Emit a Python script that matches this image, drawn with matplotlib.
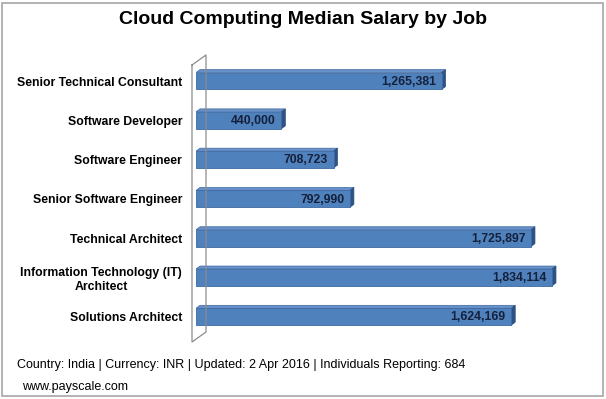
import numpy as np
import matplotlib
matplotlib.use("Agg")
import matplotlib.pyplot as plt
from matplotlib.patches import Polygon, Rectangle
from matplotlib.lines import Line2D
from matplotlib.transforms import IdentityTransform

plt.rcParams['font.family'] = ['Liberation Sans', 'DejaVu Sans']

jobs = ['Senior Technical Consultant', 'Software Developer', 'Software Engineer',
        'Senior Software Engineer', 'Technical Architect',
        'Information Technology (IT)\nArchitect', 'Solutions Architect']
salary = [1265381, 440000, 708723, 792990, 1725897, 1834114, 1624169]

W, H = 606, 399
fig = plt.figure(figsize=(W / 100, H / 100), dpi=100)
ax = fig.add_axes([196 / W, 62.6 / H, 394 / W, 275 / H])

ypos = np.arange(len(jobs))
bh = 0.43
front = '#4f81bd'
top_c = '#6790c8'
side_c = '#2e5283'

ax.barh(ypos, salary, height=bh, color=front, edgecolor='#3d6aa3', linewidth=0.6, zorder=3)
ax.set_xlim(0, 2.03e6)
ax.set_ylim(6.5, -0.5)

for s in ax.spines.values():
    s.set_visible(False)
ax.set_xticks([])
ax.set_yticks(ypos)
ax.set_yticklabels(jobs, fontsize=8.8, fontweight='bold', multialignment='center')
ax.tick_params(axis='y', length=0, pad=10)

# 3d faces of each bar, depth in pixels
d = (4, 3)
ident = IdentityTransform()
for y, v in zip(ypos, salary):
    p0 = ax.transData.transform((0, y - bh / 2))
    p1 = ax.transData.transform((v, y - bh / 2))
    p2 = ax.transData.transform((v, y + bh / 2))
    off = np.array(d)
    ax.add_patch(Polygon([p0, p1, p1 + off, p0 + off], closed=True, transform=ident,
                         facecolor=top_c, edgecolor='#3d6aa3', linewidth=0.5, zorder=2))
    ax.add_patch(Polygon([p1, p2, p2 + off, p1 + off], closed=True, transform=ident,
                         facecolor=side_c, edgecolor=side_c, linewidth=0.5, zorder=2))
    ax.annotate(f'{v:,}', (v, y), xytext=(-4, -0.5), textcoords='offset points',
                ha='right', va='center', fontsize=8.8, fontweight='bold',
                color='#15203a', zorder=4)

# side wall
wall = dict(color='#8c8c8c', linewidth=0.9, transform=ident)
fx = [192, 192, 206, 206, 192]
fy = [H - 65, H - 342, H - 332, H - 55, H - 65]
fig.add_artist(Line2D(fx, fy, **wall))

fig.text(0.5, 1 - 20 / H, 'Cloud Computing Median Salary by Job', ha='center', va='center',
         fontsize=14, fontweight='bold')
fig.text(17 / W, 1 - 365 / H,
         'Country: India | Currency: INR | Updated: 2 Apr 2016 | Individuals Reporting: 684',
         ha='left', va='center', fontsize=9)
fig.text(22 / W, 1 - 387 / H, 'www.payscale.com', ha='left', va='center', fontsize=9)

fig.add_artist(Rectangle((2 / W, 3 / H), 601 / W, 393 / H, transform=fig.transFigure,
                         fill=False, edgecolor='#a6a6a6', linewidth=1.2))

fig.savefig('out.png', dpi=100)
